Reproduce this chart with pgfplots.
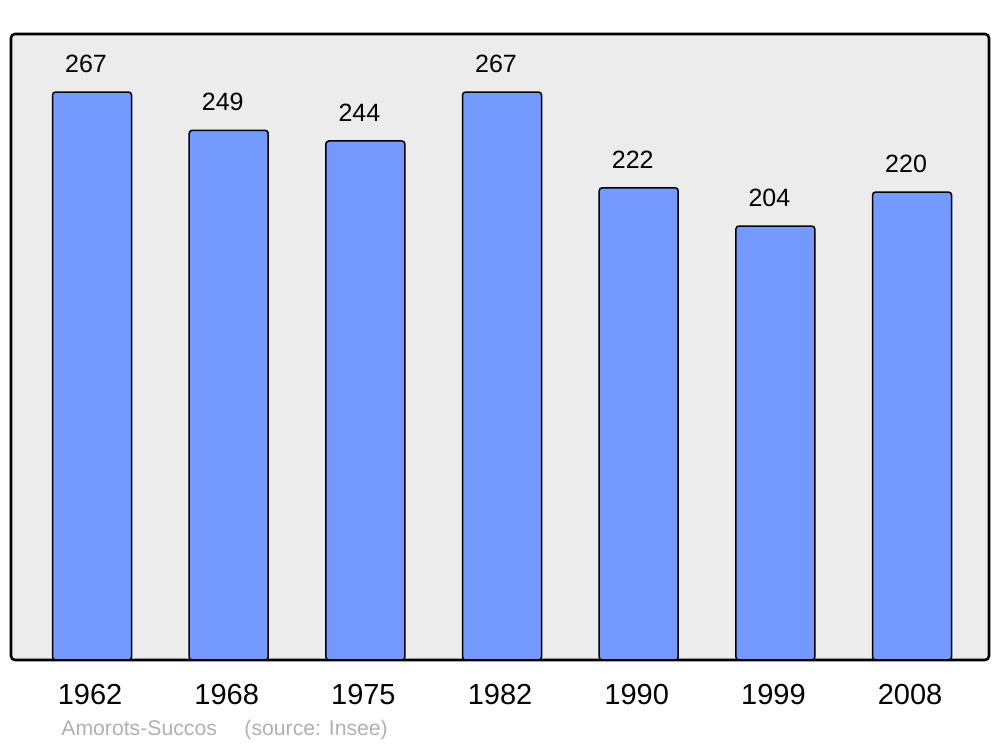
\documentclass[border=0pt]{standalone}
\usepackage{pgfplots}
\pgfplotsset{compat=1.18}
\usepackage{fontspec}
\setmainfont{Liberation Sans}
\definecolor{barblue}{HTML}{7499FF}
\definecolor{bggray}{HTML}{ECECEC}
\definecolor{srcgray}{HTML}{B0B0B0}
\begin{document}
\begin{tikzpicture}
\useasboundingbox (0,0) rectangle (500pt,373.5pt);
\begin{axis}[
  at={(5.5pt,43.5pt)}, anchor=south west,
  scale only axis, width=489pt, height=313pt,
  xmin=-0.593, xmax=6.563, ymin=0, ymax=294.3,
  axis background/.style={fill=bggray, draw=black, line width=1.3pt, rounded corners=2pt},
  axis line style={draw=none},
  ytick=\empty,
  xtick={0,1,2,3,4,5,6},
  xticklabels={1962,1968,1975,1982,1990,1999,2008},
  major tick length=0pt,
  xticklabel style={font=\fontsize{14.5}{14.5}\selectfont, anchor=center, yshift=-17.5pt, xshift=-1pt},
  /pgf/number format/assume math mode=true,
  /pgf/number format/1000 sep={},
  clip=false,
]
\addplot[ybar, bar width=39.5pt, fill=barblue, draw=black, line width=0.75pt, rounded corners=1.5pt,
  nodes near coords,
  every node near coord/.append style={font=\fontsize{12.5}{12.5}\selectfont, anchor=center, yshift=14.25pt, xshift=-3pt, sharp corners}]
  coordinates {(0,267) (1,249) (2,244) (3,267) (4,222) (5,204) (6,220)};
\end{axis}
\node[anchor=west, inner sep=0pt, text=srcgray, font=\fontsize{10.6}{10.6}\selectfont] at (30.5pt,8.5pt) {Amorots-Succos\hspace{1.3em}(source: Insee)};
\end{tikzpicture}
\end{document}
